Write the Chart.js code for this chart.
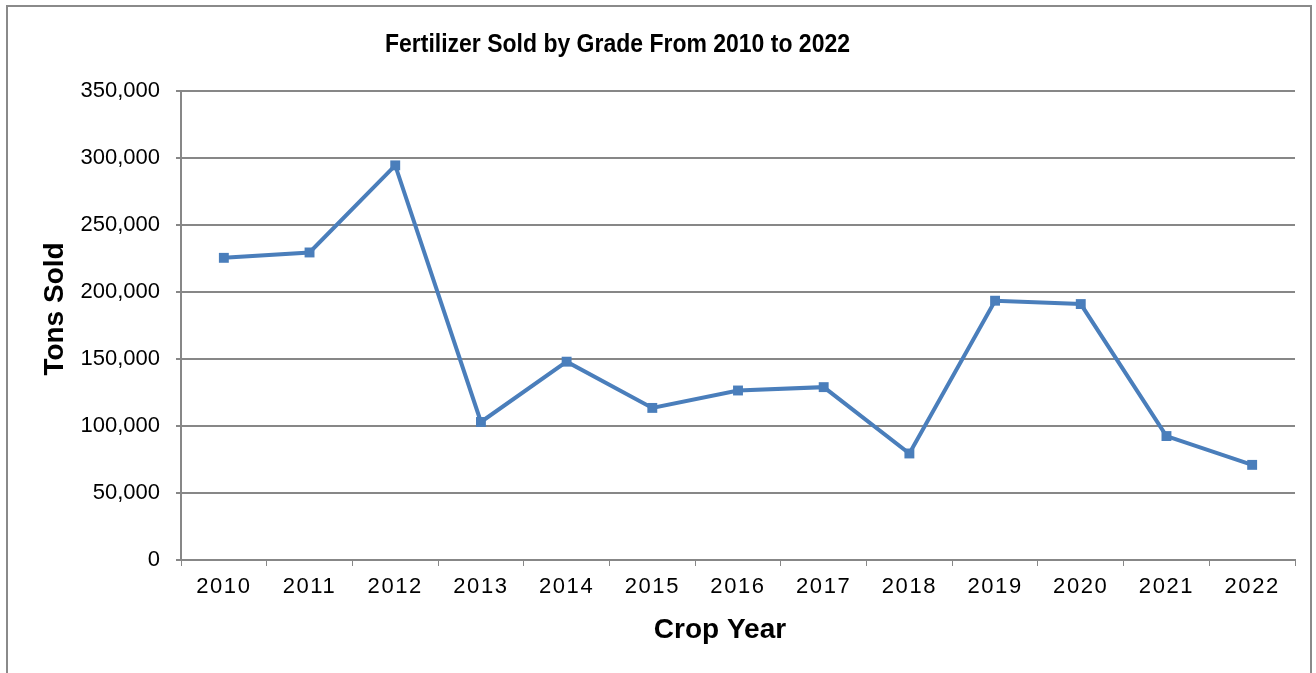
<!DOCTYPE html>
<html>
<head>
<meta charset="utf-8">
<script src="https://cdn.jsdelivr.net/npm/chart.js@4"></script>
<style>
  html, body { margin: 0; padding: 0; background: #ffffff; overflow: hidden; }
  #wrap { position: absolute; left: 0; top: 0; width: 1316px; height: 673px; }
  #frame { position: absolute; left: 6px; top: 5px; width: 1306px; height: 700px; border: 2px solid #8a8a8a; box-sizing: border-box; pointer-events: none; }
  canvas { position: absolute; left: 0; top: 0; }
</style>
</head>
<body>
<div id="wrap">
  <canvas id="c" width="1316" height="673"></canvas>
  <div id="frame"></div>
</div>
<script>
const chartTitle = 'Fertilizer Sold by Grade From 2010 to 2022';
const xAxisTitle = 'Crop Year';
const yAxisTitle = 'Tons Sold';
const years = ['2010','2011','2012','2013','2014','2015','2016','2017','2018','2019','2020','2021','2022'];
const tonsSold = [225500, 229500, 294500, 103000, 148000, 113500, 126500, 129000, 79500, 193500, 191000, 92500, 71000];
const yTicks = [0, 50000, 100000, 150000, 200000, 250000, 300000, 350000];

const FONT = "'Liberation Sans', Arial, sans-serif";
const GRID = '#878787';
const BLUE = '#4a7ebb';

const titlesPlugin = {
  id: 'titles',
  afterDatasetsDraw(chart) {
    // x tick labels (z > 0) are drawn after this hook: give them letter spacing
    chart.ctx.letterSpacing = '1.6px';
  },
  afterDraw(chart) {
    const ctx = chart.ctx;
    ctx.letterSpacing = '0px';
    ctx.save();
    ctx.fillStyle = '#000000';
    ctx.textAlign = 'center';
    ctx.textBaseline = 'alphabetic';
    // main title: tall, slightly condensed
    ctx.font = 'bold 26px ' + FONT;
    const w = ctx.measureText(chartTitle).width;
    ctx.save();
    ctx.translate(617.5, 52);
    ctx.scale(465 / w, 1);
    ctx.fillText(chartTitle, 0, 0);
    ctx.restore();
    ctx.font = 'bold 28px ' + FONT;
    ctx.fillText(xAxisTitle, 720, 638);
    ctx.translate(63, 309);
    ctx.rotate(-Math.PI / 2);
    ctx.fillText(yAxisTitle, 0, 0);
    ctx.restore();
  }
};

new Chart(document.getElementById('c'), {
  type: 'line',
  data: {
    labels: years,
    datasets: [{
      label: yAxisTitle,
      data: tonsSold,
      borderColor: BLUE,
      backgroundColor: BLUE,
      borderWidth: 4,
      pointStyle: 'rect',
      pointRadius: 7,
      pointBorderWidth: 0,
      pointBackgroundColor: BLUE,
      tension: 0,
      fill: false
    }]
  },
  options: {
    responsive: false,
    animation: false,
    devicePixelRatio: 1,
    layout: { padding: { left: 0, top: 91, right: 21, bottom: 0 } },
    plugins: {
      legend: { display: false },
      title: { display: false },
      tooltip: { enabled: false }
    },
    scales: {
      x: {
        type: 'category',
        offset: true,
        afterFit(s) { s.height = 113; },
        grid: {
          display: true,
          offset: true,
          drawOnChartArea: false,
          drawTicks: true,
          tickLength: 6,
          color: GRID,
          lineWidth: 1
        },
        border: { display: true, color: GRID, width: 2 },
        ticks: {
          z: 1,
          color: '#000000',
          font: { family: FONT, size: 22 },
          padding: 8,
          maxRotation: 0,
          autoSkip: false
        }
      },
      y: {
        min: 0,
        max: 350000,
        afterFit(s) { s.width = 181; },
        afterBuildTicks(s) { s.ticks = yTicks.map(v => ({ value: v })); },
        grid: {
          display: true,
          drawTicks: true,
          tickLength: 5,
          color: GRID,
          lineWidth: 2
        },
        border: { display: true, color: GRID, width: 2 },
        ticks: {
          color: '#000000',
          font: { family: FONT, size: 22 },
          padding: 16,
          callback: v => v.toLocaleString('en-US')
        }
      }
    }
  },
  plugins: [titlesPlugin]
});
</script>
</body>
</html>
